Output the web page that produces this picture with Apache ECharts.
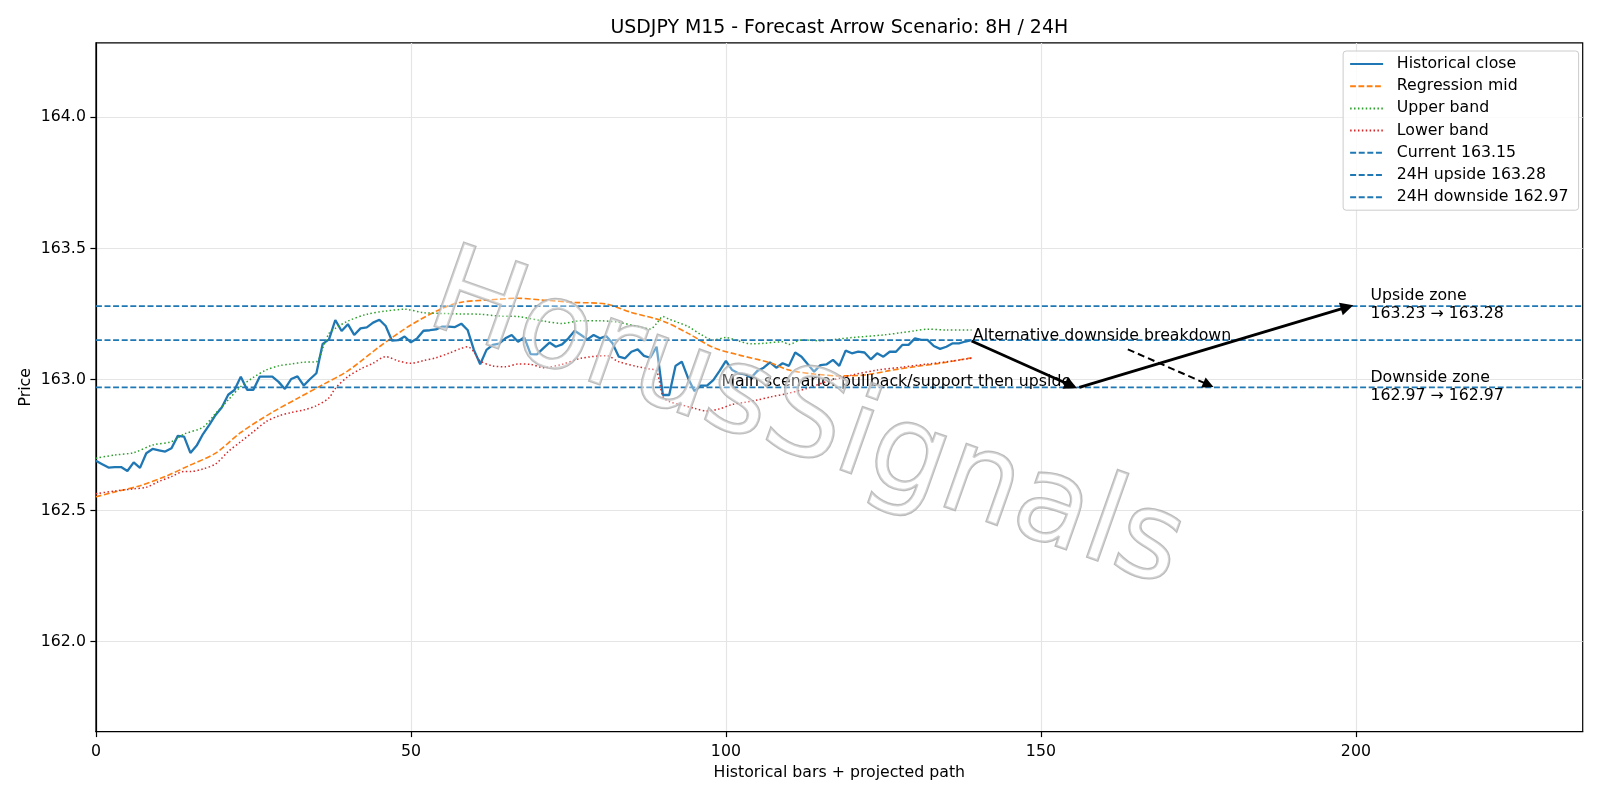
<!DOCTYPE html>
<html><head><meta charset="utf-8">
<script src="https://cdn.jsdelivr.net/npm/echarts@6/dist/echarts.min.js"></script>
<style>html,body{margin:0;padding:0;background:#fff}#c{width:1600px;height:800px}</style>
</head><body><div id="c"></div>
<script>
// ---------- data ----------
const closeValues = [
162.690,162.677,162.664,162.666,162.666,162.651,162.684,162.663,162.719,162.735,
162.730,162.725,162.738,162.785,162.782,162.720,162.748,162.792,162.827,162.865,
162.894,162.942,162.960,163.011,162.961,162.961,163.011,163.011,163.011,162.991,
162.964,163.002,163.012,162.977,163.002,163.024,163.136,163.153,163.227,163.185,
163.211,163.170,163.195,163.199,163.217,163.228,163.204,163.148,163.150,163.164,
163.142,163.157,163.186,163.188,163.191,163.202,163.202,163.200,163.213,163.189,
163.113,163.058,163.113,163.132,163.137,163.157,163.170,163.144,163.161,163.097,
163.096,163.119,163.141,163.125,163.134,163.157,163.186,163.170,163.153,163.170,
163.157,163.166,163.138,163.087,163.081,163.106,163.115,163.090,163.083,163.125,
162.941,162.941,163.052,163.068,163.005,162.956,162.977,162.977,162.998,163.033,
163.071,163.036,163.024,163.020,163.007,163.033,163.045,163.065,163.045,163.062,
163.052,163.103,163.087,163.058,163.030,163.055,163.058,163.075,163.052,163.110,
163.100,163.106,163.103,163.077,163.100,163.087,163.106,163.106,163.132,163.132,
163.157,163.151,163.151,163.128,163.117,163.125,163.138,163.138,163.145,163.150
];
const regX = [0,3,7,11,15,19,23,28,32,36,40,45,50,55,58,62,67,71,76,81,85,90,94,98,102,107,110,114,118,122,126,130,134,139];
const regY = [162.553,162.571,162.595,162.630,162.674,162.719,162.798,162.875,162.928,162.980,163.033,163.125,163.208,163.272,163.295,163.303,163.310,163.303,163.294,163.288,163.256,163.223,163.176,163.122,163.094,163.064,163.036,163.021,163.014,163.017,163.034,163.049,163.062,163.083];
const upX = [0,3,6,9,12,14,17,19,21,23,25,27,29,31,33,35,36,37,38,40,43,46,49,52,55,58,61,64,67,71,74,77,80,83,86,88,89,90,91,92,94,96,98,100,102,104,106,109,110,112,115,118,120,125,128,130,132,135,139];
const upY = [162.700,162.712,162.721,162.750,162.763,162.792,162.818,162.871,162.922,162.973,163.008,163.036,163.052,163.059,163.066,163.068,163.120,163.176,163.195,163.223,163.249,163.261,163.268,163.255,163.252,163.250,163.249,163.242,163.240,163.223,163.214,163.224,163.224,163.218,163.202,163.193,163.214,163.240,163.230,163.221,163.202,163.172,163.151,163.160,163.147,163.136,163.138,163.144,163.134,163.151,163.148,163.155,163.160,163.170,163.179,163.186,163.192,163.189,163.189];
const loX = [0,3,6,8,10,12,14,15,17,19,21,23,25,27,29,31,33,35,37,38,40,42,44,46,48,50,52,54,56,58,59,60,61,63,65,67,69,71,74,77,81,83,86,88,89,90,91,93,95,97,99,101,103,105,107,110,113,116,120,124,128,132,136,139];
const loY = [162.564,162.575,162.583,162.589,162.611,162.630,162.649,162.649,162.659,162.678,162.725,162.763,162.801,162.839,162.861,162.874,162.884,162.900,162.930,162.966,163.011,163.040,163.062,163.087,163.071,163.062,163.072,163.083,163.100,163.119,163.125,163.106,163.071,163.052,163.049,163.059,163.058,163.045,163.058,163.081,163.091,163.068,163.049,163.040,163.033,162.935,162.916,162.903,162.890,162.880,162.888,162.905,162.913,162.922,162.933,162.948,162.967,162.992,163.017,163.036,163.047,163.059,163.071,163.081];
const currentLevel = 163.15;
const upsideLevel = 163.28;
const downsideLevel = 162.97;
const seriesNames = ['Historical close','Regression mid','Upper band','Lower band','Current 163.15','24H upside 163.28','24H downside 162.97'];
// arrow segments: [start, end] in data units (end = where the arrow body meets its head)
const mainArrow1 = [[139.0,163.147],[154.8,162.977]];
const mainArrow2 = [[156.1,162.970],[198.6,163.276]];
const altArrow = [[163.8,163.115],[176.6,162.980]];
const noteTexts = ['Alternative downside breakdown','Main scenario: pullback/support then upside','Upside zone\n163.23 → 163.28','Downside zone\n162.97 → 162.97'];
const noteX = [139.2, 99.3, 202.3, 202.3];
const noteY = [163.167, 162.990, 163.284, 162.972];
const xTicks = [0,50,100,150,200];
const yTicks = [162.0,162.5,163.0,163.5,164.0];
const xMin = 0, xMax = 236, yMin = 161.657, yMax = 164.284;
const titleText = 'USDJPY M15 - Forecast Arrow Scenario: 8H / 24H';

// ---------- chart ----------
const FONT = 'DejaVu Sans';
const FS = 15.75;
const pairs = (xs, ys) => xs.map((x, i) => [x, ys[i]]);
const closeData = closeValues.map((v, i) => [i, v]);
const hline = v => [[xMin, v], [xMax, v]];
const chart = echarts.init(document.getElementById('c'), null, {renderer: 'canvas'});

const refStyle = {color: '#1f77b4', width: 1.7, type: [6, 2.6]};
const option = {
  animation: false,
  backgroundColor: '#ffffff',
  textStyle: {fontFamily: FONT},
  grid: {left: 95.9, right: 17.3, top: 42.9, bottom: 68.4, show: true, borderColor: '#000', borderWidth: 1.2, backgroundColor: 'transparent', outerBoundsMode: 'none'},
  xAxis: {
    type: 'value', min: xMin, max: xMax, interval: 50,
    name: 'Historical bars + projected path', nameLocation: 'middle', nameGap: 33,
    nameTextStyle: {fontSize: FS, color: '#000', fontFamily: FONT},
    axisLine: {show: true, onZero: false, lineStyle: {color: '#000', width: 1.2}},
    axisTick: {show: true, length: 5.5, customValues: xTicks, lineStyle: {color: '#000', width: 1.2}},
    axisLabel: {show: true, margin: 12, fontSize: FS, color: '#000', fontFamily: FONT, showMaxLabel: false, showMinLabel: true},
    splitLine: {show: true, lineStyle: {color: '#e5e5e5', width: 1.2}}
  },
  yAxis: {
    type: 'value', min: yMin, max: yMax, splitNumber: 5, scale: true,
    name: 'Price', nameLocation: 'middle', nameGap: 61.5, nameMoveOverlap: false,
    nameTextStyle: {fontSize: FS, color: '#000', fontFamily: FONT},
    axisLine: {show: true, onZero: false, lineStyle: {color: '#000', width: 1.2}},
    axisTick: {show: true, length: 5.5, customValues: yTicks, lineStyle: {color: '#000', width: 1.2}},
    axisLabel: {show: true, margin: 10, fontSize: FS, color: '#000', fontFamily: FONT, showMinLabel: false, showMaxLabel: false,
      formatter: v => v.toFixed(1)},
    splitLine: {show: true, lineStyle: {color: '#e5e5e5', width: 1.2}}
  },
  legend: {
    data: seriesNames, orient: 'vertical', right: 21.4, top: 51,
    itemWidth: 33, itemHeight: 14, itemGap: 6.2,
    padding: [5, 10, 5, 6],
    itemStyle: {opacity: 0},
    backgroundColor: 'rgba(255,255,255,0.85)', borderColor: '#cccccc', borderWidth: 1, borderRadius: 3,
    textStyle: {fontSize: FS, color: '#000', fontFamily: FONT, lineHeight: 16, padding: [0, 0, 0, 8.7]}
  },
  graphic: [
    {type: 'text', x: 839.3, y: 28.5, z: 100,
     style: {text: titleText, font: '18.9px "DejaVu Sans"', fill: '#000', align: 'center', verticalAlign: 'middle', textAlign: 'center', textVerticalAlign: 'middle'}},
    {type: 'text', x: 806, y: 424, rotation: -0.34, z: 100, silent: true,
     style: {text: 'HorusSignals', font: '121px "DejaVu Sans"', fill: 'rgba(255,255,255,0.35)', stroke: 'rgba(175,175,175,0.85)', lineWidth: 2.4,
       align: 'center', verticalAlign: 'middle', textAlign: 'center', textVerticalAlign: 'middle',
       shadowColor: 'rgba(0,0,0,0.25)', shadowOffsetX: 3, shadowOffsetY: 3, shadowBlur: 1}}
  ],
  series: [
    {name: seriesNames[0], type: 'line', data: closeData, symbol: 'none', z: 3, lineStyle: {color: '#1f77b4', width: 2.3}, itemStyle: {color: '#1f77b4'}},
    {name: seriesNames[1], type: 'line', data: pairs(regX, regY), symbol: 'none', smooth: 0.3, z: 3, lineStyle: {color: '#ff7f0e', width: 1.6, type: [5.8, 2.5]}, itemStyle: {color: '#ff7f0e'}},
    {name: seriesNames[2], type: 'line', data: pairs(upX, upY), symbol: 'none', smooth: 0.3, z: 3, lineStyle: {color: '#2ca02c', width: 1.5, type: [1.5, 2.4]}, itemStyle: {color: '#2ca02c'}},
    {name: seriesNames[3], type: 'line', data: pairs(loX, loY), symbol: 'none', smooth: 0.3, z: 3, lineStyle: {color: '#d62728', width: 1.5, type: [1.5, 2.4]}, itemStyle: {color: '#d62728'}},
    {name: seriesNames[4], type: 'line', data: hline(currentLevel), symbol: 'none', z: 4, lineStyle: refStyle, itemStyle: {color: '#1f77b4'}},
    {name: seriesNames[5], type: 'line', data: hline(upsideLevel), symbol: 'none', z: 4, lineStyle: refStyle, itemStyle: {color: '#1f77b4'}},
    {name: seriesNames[6], type: 'line', data: hline(downsideLevel), symbol: 'none', z: 4, lineStyle: refStyle, itemStyle: {color: '#1f77b4'}},
    {name: 'notes', type: 'scatter', symbolSize: 0, z: 5, itemStyle: {opacity: 1},
     data: noteTexts.map((t, i) => ({name: t, value: [noteX[i], noteY[i]]})),
     label: {show: true, formatter: '{b}', position: [0, 0], align: 'left', verticalAlign: 'middle', fontSize: FS, color: '#000', opacity: 1, fontFamily: FONT, lineHeight: 18}},
    {name: 'main arrows', type: 'lines', coordinateSystem: 'cartesian2d', z: 6,
     symbol: ['none', 'triangle'], symbolSize: [10, 13],
     data: [{coords: mainArrow1}, {coords: mainArrow2}],
     lineStyle: {color: '#000', width: 2.8, opacity: 1}},
    {name: 'alt arrow', type: 'lines', coordinateSystem: 'cartesian2d', z: 6,
     symbol: ['none', 'triangle'], symbolSize: [9, 11],
     data: [{coords: altArrow}],
     lineStyle: {color: '#000', width: 2.0, opacity: 1, type: [7, 4]}}
  ]
};
chart.setOption(option);
</script>
</body></html>
